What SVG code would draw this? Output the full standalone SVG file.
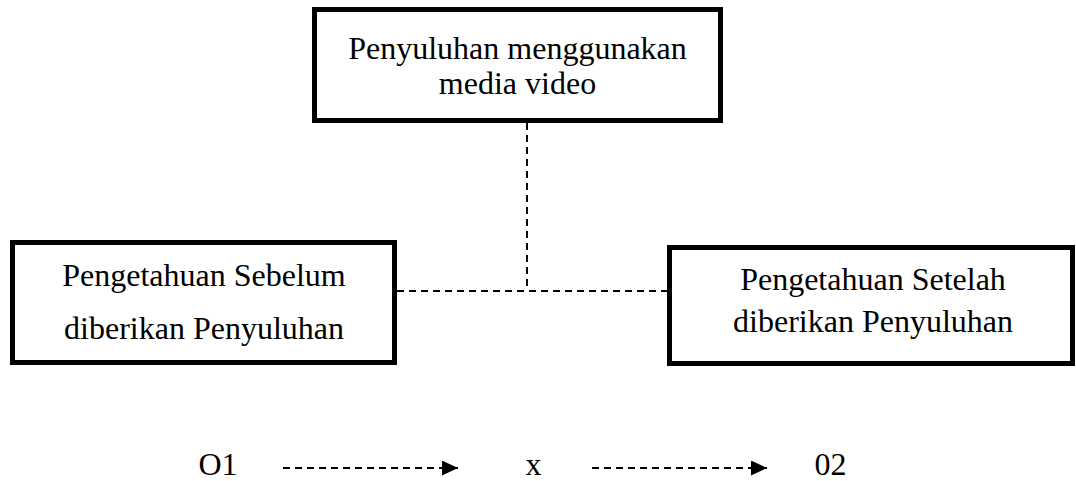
<svg xmlns="http://www.w3.org/2000/svg" width="1076" height="481" viewBox="0 0 1076 481">
  <defs>
    <style>
      .box { fill: #ffffff; stroke: #000000; stroke-width: 5; }
      .lbl { font-family: "Liberation Serif", "Times New Roman", serif; font-size: 32px; fill: #000000; text-anchor: middle; }
      .dash { fill: none; stroke: #000000; stroke-width: 2; stroke-dasharray: 7 5; }
    </style>
    <marker id="arrow" viewBox="0 0 16 15" refX="16" refY="7.5" markerWidth="16" markerHeight="15" markerUnits="userSpaceOnUse" orient="auto">
      <path d="M0,0 L16,7.5 L0,15 Z" fill="#000000"/>
    </marker>
  </defs>
  <rect width="1076" height="481" fill="#ffffff"/>
  <g id="connectors">
    <line class="dash" x1="527" y1="123" x2="527" y2="291"/>
    <line class="dash" x1="397" y1="291" x2="667" y2="291"/>
    <line class="dash" x1="283" y1="468" x2="458" y2="468" marker-end="url(#arrow)"/>
    <line class="dash" x1="592" y1="468" x2="767" y2="468" marker-end="url(#arrow)"/>
  </g>
  <g id="node-media">
    <rect class="box" x="314.5" y="9.5" width="406" height="111"/>
    <text class="lbl" x="517.5" y="59">Penyuluhan menggunakan</text>
    <text class="lbl" x="517.5" y="94">media video</text>
  </g>
  <g id="node-sebelum">
    <rect class="box" x="12.5" y="242.5" width="382" height="120"/>
    <text class="lbl" x="204" y="286">Pengetahuan Sebelum</text>
    <text class="lbl" x="204" y="339">diberikan Penyuluhan</text>
  </g>
  <g id="node-setelah">
    <rect class="box" x="669.5" y="247.5" width="403" height="116"/>
    <text class="lbl" x="873" y="290">Pengetahuan Setelah</text>
    <text class="lbl" x="873" y="332">diberikan Penyuluhan</text>
  </g>
  <g id="node-o1">
    <text class="lbl" x="218" y="475">O1</text>
  </g>
  <g id="node-x">
    <text class="lbl" x="533.5" y="475">x</text>
  </g>
  <g id="node-02">
    <text class="lbl" x="830.5" y="475">02</text>
  </g>
</svg>
